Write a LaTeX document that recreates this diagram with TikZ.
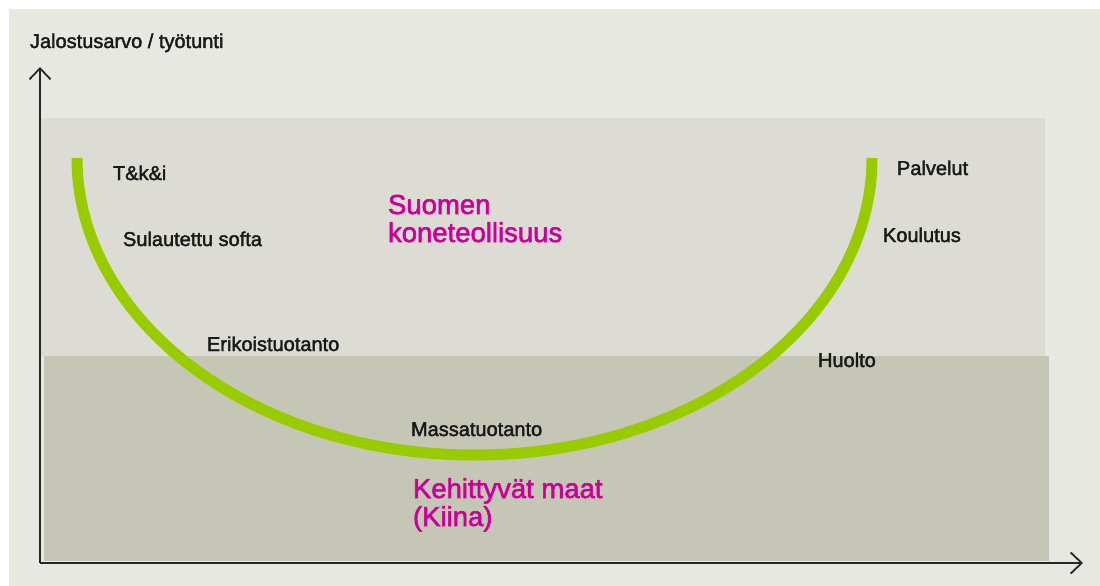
\documentclass[tikz,border=0pt]{standalone}
\usepackage{fontspec}
\setmainfont{Liberation Sans}
\newfontfamily\medfont{Liberation Sans}[FakeBold=2]
\usepackage{tikz}
\usetikzlibrary{arrows.meta}
\definecolor{bgLight}{HTML}{E8E8E2}
\definecolor{zoneHigh}{HTML}{DCDCD4}
\definecolor{zoneLow}{HTML}{C6C6B6}
\definecolor{curveGreen}{HTML}{99CC00}
\definecolor{titleMagenta}{HTML}{CC0099}
\tikzset{
lab/.style = {anchor=base west, inner sep=0pt, outer sep=0pt,
              font=\medfont\fontsize{20}{24}\selectfont, text=black!90},
zone/.style = {align=left, anchor=base west, inner sep=0pt, outer sep=0pt,
              font=\medfont\fontsize{27.5}{28}\selectfont, text=titleMagenta}
}
\tikzset{
axis/.style = {line width=1.8pt, black!85,
               -{Straight Barb[length=11pt, width=21pt, line width=1.8pt]}}
}
\tikzset{
smile/.style = {line width=11pt, curveGreen}
}

\begin{document}
\begin{tikzpicture}[x=1pt, y=-1pt]

    \useasboundingbox (0,0) rectangle (1100,586);
    \fill[bgLight] (9,9) rectangle (1100,586);
    \fill[zoneHigh] (41,118) rectangle (1045,356);
    \fill[zoneLow] (44,356) rectangle (1049,561);

    \coordinate (origin) at (40,563);
    \coordinate (yTop) at (40,67);
    \coordinate (xEnd) at (1083,563);
    \draw[axis] (origin) -- (yTop);
    \draw[axis] (origin) -- (xEnd);

    \coordinate (curveStart) at (77,158);
    \draw[smile] (curveStart) arc[start angle=180, end angle=0, x radius=397.5, y radius=297];

\node[lab] (axisLabel) at (30,48) {Jalostusarvo / työtunti};
\node[lab] (tki) at (113,180) {T\&k\&i};
\node[lab] (softa) at (123,246) {Sulautettu softa};
\node[lab] (erikois) at (207,351) {Erikoistuotanto};
\node[lab] (massa) at (411,436) {Massatuotanto};
\node[lab] (huolto) at (818,367) {Huolto};
\node[lab] (koulutus) at (883,242) {Koulutus};
\node[lab] (palvelut) at (897,175) {Palvelut};

\node[zone] (suomi) at (388,242) {Suomen\\koneteollisuus};
\node[zone] (kiina) at (413,526) {Kehittyvät maat\\(Kiina)};
\end{tikzpicture}
\end{document}
